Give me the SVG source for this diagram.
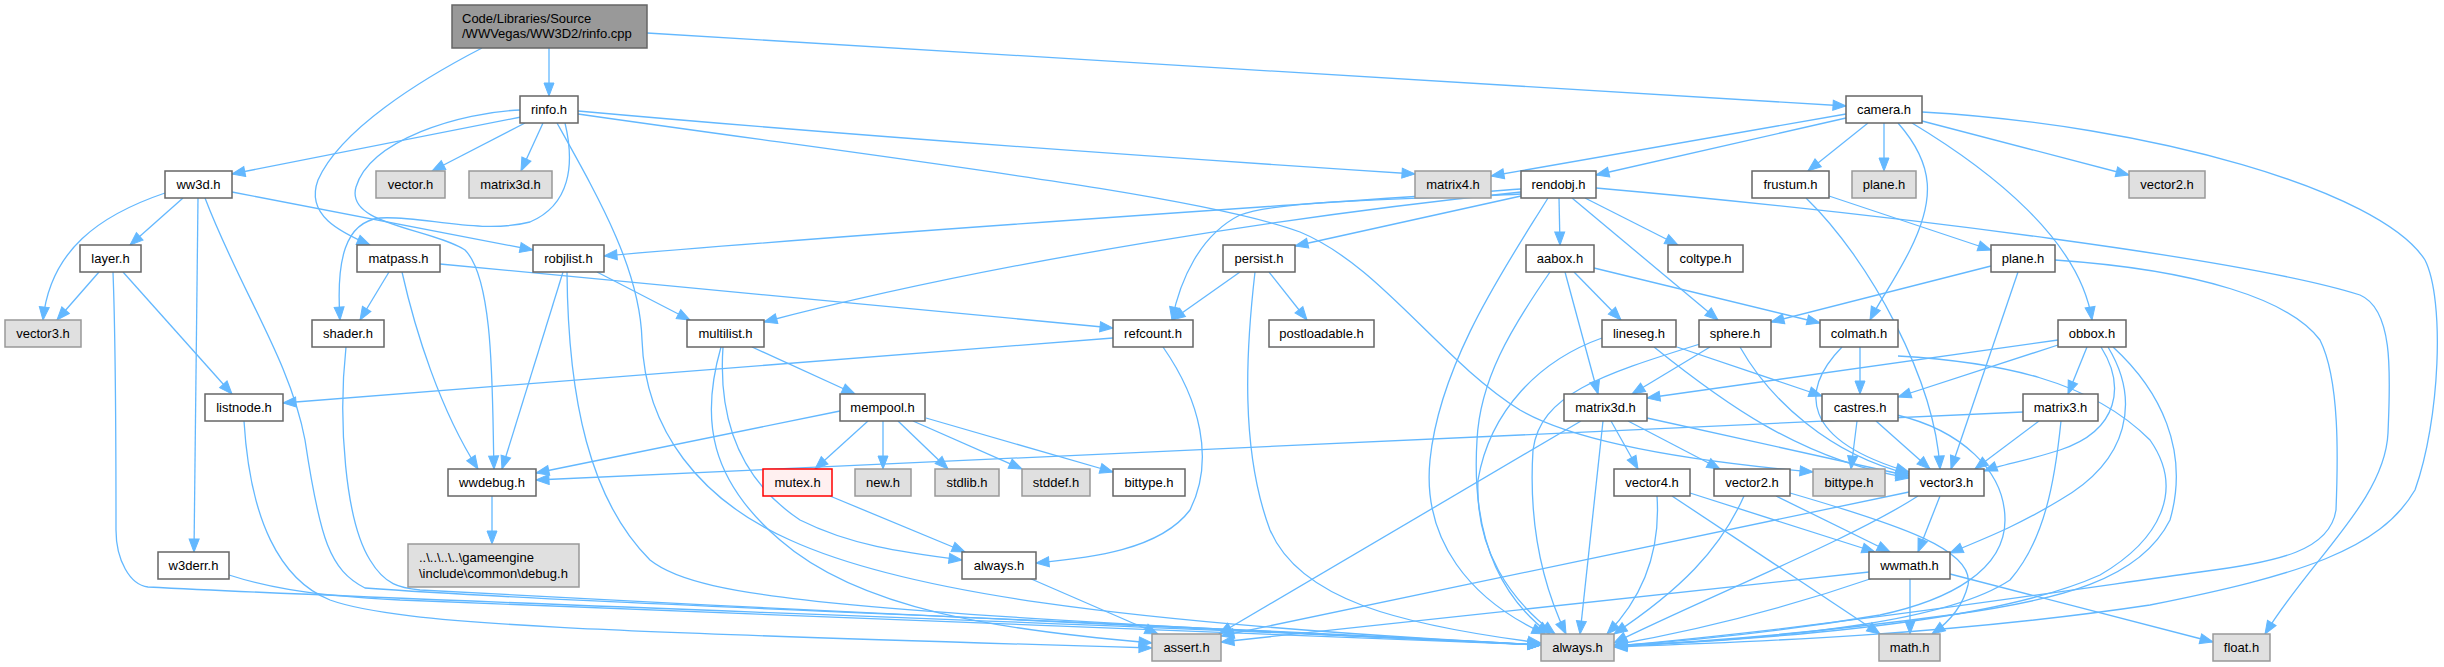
<svg xmlns="http://www.w3.org/2000/svg" width="2444" height="667" viewBox="0 0 2444 667">
<style>
text{font-family:"Liberation Sans",Arial,sans-serif;font-size:13px;fill:#000;text-anchor:middle}
text.l{text-anchor:start}
rect.n{fill:#fff;stroke:#666;stroke-width:1.5}
rect.g{fill:#e0e0e0;stroke:#999;stroke-width:1.5}
rect.r{fill:#999;stroke:#666;stroke-width:1.5}
rect.m{fill:#fff0f0;stroke:#f00;stroke-width:1.5}
#edges path{fill:none;stroke:#63b8ff;stroke-width:1.3;marker-end:url(#a)}
</style>
<defs>
<marker id="a" markerUnits="userSpaceOnUse" markerWidth="14" markerHeight="12" refX="13" refY="6" orient="auto" overflow="visible"><path d="M0,1 L13,6 L0,11 z" fill="#63b8ff" stroke="#63b8ff" stroke-width="1"/></marker>
</defs>
<rect width="2444" height="667" fill="#fff"/>
<g id="edges">
<path d="M549,48 L549,96"/>
<path d="M647,33 L1846,106"/>
<path d="M482,48 C420,80 340,130 318,180 C305,215 340,232 370,245"/>
<path d="M521,117 L232,174"/>
<path d="M525,123 L432,171"/>
<path d="M543,123 L521,171"/>
<path d="M578,111 C900,140 1200,160 1415,174"/>
<path d="M578,114 C900,160 1200,195 1300,232 C1380,265 1440,360 1520,410 C1580,445 1700,462 1813,472"/>
<path d="M557,123 C600,200 640,270 642,340 C645,430 700,500 790,540 C900,590 1100,622 1541,645"/>
<path d="M565,123 C575,165 570,205 530,222 C480,235 420,215 380,218 C345,222 336,260 340,320"/>
<path d="M521,110 C460,112 370,140 356,187 C345,225 430,228 465,250 C495,280 492,400 494,469"/>
<path d="M232,192 L533,250"/>
<path d="M165,193 C100,215 50,250 43,320"/>
<path d="M183,198 L130,245"/>
<path d="M198,198 L194,552"/>
<path d="M205,198 C240,290 290,360 305,440 C320,540 330,570 365,588 C600,605 1100,620 1541,645"/>
<path d="M99,272 L57,320"/>
<path d="M123,272 L232,394"/>
<path d="M113,272 C116,350 116,450 116,530 C116,560 130,585 148,587 C500,605 1100,622 1541,645"/>
<path d="M389,272 L360,320"/>
<path d="M402,272 C415,330 440,410 478,469"/>
<path d="M440,264 L1113,328"/>
<path d="M597,272 L690,320"/>
<path d="M563,272 L502,469"/>
<path d="M567,272 C568,400 590,500 650,560 C700,600 850,612 1541,645"/>
<path d="M346,347 C338,420 345,520 370,560 C385,585 400,588 420,590 C800,610 1200,630 1541,645"/>
<path d="M229,575 C260,585 300,595 400,600 C800,615 1200,630 1541,645"/>
<path d="M244,421 C250,520 280,580 330,600 C400,625 600,632 1152,648"/>
<path d="M492,496 L492,544"/>
<path d="M752,347 L855,394"/>
<path d="M723,347 C718,420 740,480 800,520 C850,545 900,552 962,560"/>
<path d="M721,347 C700,420 710,480 780,540 C860,610 1000,630 1152,643"/>
<path d="M1113,338 L283,403"/>
<path d="M1163,347 C1200,400 1215,460 1190,510 C1160,550 1090,558 1036,563"/>
<path d="M840,411 L536,473"/>
<path d="M868,421 L815,469"/>
<path d="M883,421 L883,469"/>
<path d="M898,421 L948,469"/>
<path d="M913,421 L1022,469"/>
<path d="M926,418 L1113,472"/>
<path d="M830,496 L965,552"/>
<path d="M1029,578 L1158,634"/>
<path d="M1846,114 L1491,176"/>
<path d="M1846,118 L1596,175"/>
<path d="M1868,123 L1808,171"/>
<path d="M1884,123 L1884,171"/>
<path d="M1898,123 C1935,165 1935,200 1910,250 C1895,280 1880,300 1870,320"/>
<path d="M1912,123 C1990,170 2080,240 2092,320"/>
<path d="M1922,121 L2129,175"/>
<path d="M1922,112 C2150,125 2380,190 2425,260 C2445,300 2440,420 2415,490 C2380,550 2300,575 2150,605 C1950,635 1750,642 1614,647"/>
<path d="M1521,189 C1300,205 900,230 604,256"/>
<path d="M1521,192 C1300,215 1000,260 764,322"/>
<path d="M1521,194 C1400,200 1280,200 1240,215 C1200,235 1180,280 1172,320"/>
<path d="M1521,196 L1295,246"/>
<path d="M1548,198 C1510,260 1440,360 1430,460 C1422,540 1470,600 1545,634"/>
<path d="M1559,198 L1560,245"/>
<path d="M1572,198 L1718,320"/>
<path d="M1585,198 L1678,245"/>
<path d="M1596,188 C1900,215 2250,260 2360,295 C2395,310 2390,380 2388,433 C2385,500 2310,560 2265,634"/>
<path d="M1829,196 L1991,250"/>
<path d="M1806,198 C1870,260 1935,380 1940,469"/>
<path d="M1991,266 L1771,322"/>
<path d="M2018,272 L1951,469"/>
<path d="M2055,260 C2200,270 2290,300 2320,340 C2340,380 2338,460 2336,510 C2330,550 2280,562 2200,572 C2000,600 1800,630 1614,646"/>
<path d="M1574,272 L1621,320"/>
<path d="M1565,272 L1598,394"/>
<path d="M1594,268 L1820,323"/>
<path d="M1550,272 C1510,330 1480,380 1477,440 C1472,520 1490,590 1550,634"/>
<path d="M1677,347 L1822,396"/>
<path d="M1654,347 C1720,400 1800,460 1909,478"/>
<path d="M1602,338 C1540,360 1490,410 1478,480 C1475,550 1510,600 1555,634"/>
<path d="M1710,347 L1632,394"/>
<path d="M1740,347 C1770,400 1830,455 1909,474"/>
<path d="M1700,344 C1600,375 1540,395 1533,450 C1528,530 1545,590 1566,634"/>
<path d="M1860,347 L1860,394"/>
<path d="M1842,347 C1800,390 1800,440 1909,472"/>
<path d="M1898,356 C2000,362 2090,380 2150,440 C2185,490 2160,540 2100,575 C2000,620 1800,638 1614,646"/>
<path d="M2058,340 L1647,398"/>
<path d="M2058,345 L1898,397"/>
<path d="M2087,347 L2068,394"/>
<path d="M2101,347 C2125,385 2120,430 2060,450 C2030,460 2000,465 1984,471"/>
<path d="M2108,347 C2140,400 2130,460 2060,500 C2010,530 1980,540 1950,553"/>
<path d="M2113,347 C2160,390 2190,450 2170,520 C2140,580 2060,600 1950,615 C1800,635 1700,642 1614,646"/>
<path d="M1857,421 L1851,469"/>
<path d="M1876,421 L1930,469"/>
<path d="M1897,415 C1960,430 2005,470 2005,520 C2005,570 1950,600 1880,615 C1780,632 1700,640 1614,646"/>
<path d="M2039,421 L1975,469"/>
<path d="M2023,412 L536,480"/>
<path d="M2061,421 C2055,480 2045,540 2010,580 C1950,620 1800,638 1614,646"/>
<path d="M1611,421 L1638,469"/>
<path d="M1628,421 L1720,469"/>
<path d="M1647,418 L1909,476"/>
<path d="M1581,421 L1219,634"/>
<path d="M1603,421 L1580,634"/>
<path d="M1657,496 C1660,540 1650,590 1607,634"/>
<path d="M1690,493 L1875,552"/>
<path d="M1672,496 L1880,634"/>
<path d="M1776,496 L1890,552"/>
<path d="M1790,493 C1900,525 1975,550 1968,585 C1962,610 1945,625 1932,634"/>
<path d="M1744,496 C1720,550 1680,590 1614,634"/>
<path d="M1940,496 L1918,552"/>
<path d="M1909,492 L1221,636"/>
<path d="M1918,496 C1850,540 1700,600 1614,643"/>
<path d="M1910,578 L1910,634"/>
<path d="M1950,574 L2213,642"/>
<path d="M1869,572 L1221,642"/>
<path d="M1873,578 C1780,610 1700,630 1614,645"/>
<path d="M1240,272 L1172,320"/>
<path d="M1269,272 L1307,320"/>
<path d="M1255,272 C1246,350 1240,450 1270,530 C1300,600 1400,625 1541,643"/>
</g>
<g id="node-rinfo_cpp"><rect class="r" x="452" y="5" width="195" height="43"/><text class="l" x="462" y="23">Code/Libraries/Source</text><text class="l" x="462" y="38">/WWVegas/WW3D2/rinfo.cpp</text></g>
<g id="node-rinfo_h"><rect class="n" x="520" y="96" width="58" height="27"/><text x="549" y="114">rinfo.h</text></g>
<g id="node-camera_h"><rect class="n" x="1846" y="96" width="76" height="27"/><text x="1884" y="114">camera.h</text></g>
<g id="node-ww3d_h"><rect class="n" x="165" y="171" width="67" height="27"/><text x="198.5" y="189">ww3d.h</text></g>
<g id="node-vector_h"><rect class="g" x="376" y="171" width="69" height="27"/><text x="410.5" y="189">vector.h</text></g>
<g id="node-matrix3d_g"><rect class="g" x="469" y="171" width="83" height="27"/><text x="510.5" y="189">matrix3d.h</text></g>
<g id="node-matrix4_h"><rect class="g" x="1415" y="171" width="76" height="27"/><text x="1453" y="189">matrix4.h</text></g>
<g id="node-rendobj_h"><rect class="n" x="1521" y="171" width="75" height="27"/><text x="1558.5" y="189">rendobj.h</text></g>
<g id="node-frustum_h"><rect class="n" x="1752" y="171" width="77" height="27"/><text x="1790.5" y="189">frustum.h</text></g>
<g id="node-plane_g"><rect class="g" x="1852" y="171" width="64" height="27"/><text x="1884" y="189">plane.h</text></g>
<g id="node-vector2_g"><rect class="g" x="2129" y="171" width="76" height="27"/><text x="2167" y="189">vector2.h</text></g>
<g id="node-layer_h"><rect class="n" x="80" y="245" width="61" height="27"/><text x="110.5" y="263">layer.h</text></g>
<g id="node-matpass_h"><rect class="n" x="357" y="245" width="83" height="27"/><text x="398.5" y="263">matpass.h</text></g>
<g id="node-robjlist_h"><rect class="n" x="533" y="245" width="71" height="27"/><text x="568.5" y="263">robjlist.h</text></g>
<g id="node-persist_h"><rect class="n" x="1223" y="245" width="72" height="27"/><text x="1259" y="263">persist.h</text></g>
<g id="node-aabox_h"><rect class="n" x="1526" y="245" width="68" height="27"/><text x="1560" y="263">aabox.h</text></g>
<g id="node-coltype_h"><rect class="n" x="1668" y="245" width="75" height="27"/><text x="1705.5" y="263">coltype.h</text></g>
<g id="node-plane_h"><rect class="n" x="1991" y="245" width="64" height="27"/><text x="2023" y="263">plane.h</text></g>
<g id="node-vector3_g"><rect class="g" x="5" y="320" width="76" height="27"/><text x="43" y="338">vector3.h</text></g>
<g id="node-shader_h"><rect class="n" x="312" y="320" width="72" height="27"/><text x="348" y="338">shader.h</text></g>
<g id="node-multilist_h"><rect class="n" x="687" y="320" width="77" height="27"/><text x="725.5" y="338">multilist.h</text></g>
<g id="node-refcount_h"><rect class="n" x="1113" y="320" width="80" height="27"/><text x="1153" y="338">refcount.h</text></g>
<g id="node-postloadable_h"><rect class="n" x="1269" y="320" width="105" height="27"/><text x="1321.5" y="338">postloadable.h</text></g>
<g id="node-lineseg_h"><rect class="n" x="1602" y="320" width="74" height="27"/><text x="1639" y="338">lineseg.h</text></g>
<g id="node-sphere_h"><rect class="n" x="1699" y="320" width="72" height="27"/><text x="1735" y="338">sphere.h</text></g>
<g id="node-colmath_h"><rect class="n" x="1820" y="320" width="78" height="27"/><text x="1859" y="338">colmath.h</text></g>
<g id="node-obbox_h"><rect class="n" x="2058" y="320" width="68" height="27"/><text x="2092" y="338">obbox.h</text></g>
<g id="node-listnode_h"><rect class="n" x="205" y="394" width="78" height="27"/><text x="244" y="412">listnode.h</text></g>
<g id="node-mempool_h"><rect class="n" x="840" y="394" width="85" height="27"/><text x="882.5" y="412">mempool.h</text></g>
<g id="node-matrix3d_h"><rect class="n" x="1564" y="394" width="83" height="27"/><text x="1605.5" y="412">matrix3d.h</text></g>
<g id="node-castres_h"><rect class="n" x="1822" y="394" width="76" height="27"/><text x="1860" y="412">castres.h</text></g>
<g id="node-matrix3_h"><rect class="n" x="2023" y="394" width="75" height="27"/><text x="2060.5" y="412">matrix3.h</text></g>
<g id="node-wwdebug_h"><rect class="n" x="448" y="469" width="88" height="27"/><text x="492" y="487">wwdebug.h</text></g>
<g id="node-mutex_h"><rect class="m" x="763" y="469" width="69" height="27"/><text x="797.5" y="487">mutex.h</text></g>
<g id="node-new_h"><rect class="g" x="855" y="469" width="56" height="27"/><text x="883" y="487">new.h</text></g>
<g id="node-stdlib_h"><rect class="g" x="935" y="469" width="64" height="27"/><text x="967" y="487">stdlib.h</text></g>
<g id="node-stddef_h"><rect class="g" x="1022" y="469" width="68" height="27"/><text x="1056" y="487">stddef.h</text></g>
<g id="node-bittype_w"><rect class="n" x="1113" y="469" width="72" height="27"/><text x="1149" y="487">bittype.h</text></g>
<g id="node-vector4_h"><rect class="n" x="1614" y="469" width="76" height="27"/><text x="1652" y="487">vector4.h</text></g>
<g id="node-vector2_h"><rect class="n" x="1714" y="469" width="76" height="27"/><text x="1752" y="487">vector2.h</text></g>
<g id="node-bittype_g"><rect class="g" x="1813" y="469" width="72" height="27"/><text x="1849" y="487">bittype.h</text></g>
<g id="node-vector3_h"><rect class="n" x="1909" y="469" width="75" height="27"/><text x="1946.5" y="487">vector3.h</text></g>
<g id="node-debug_h"><rect class="g" x="408" y="544" width="171" height="43"/><text class="l" x="419" y="562">..\..\..\..\gameengine</text><text class="l" x="419" y="578">\include\common\debug.h</text></g>
<g id="node-w3derr_h"><rect class="n" x="158" y="552" width="71" height="27"/><text x="193.5" y="570">w3derr.h</text></g>
<g id="node-always_w"><rect class="n" x="962" y="552" width="74" height="27"/><text x="999" y="570">always.h</text></g>
<g id="node-wwmath_h"><rect class="n" x="1869" y="552" width="81" height="27"/><text x="1909.5" y="570">wwmath.h</text></g>
<g id="node-assert_h"><rect class="g" x="1152" y="634" width="69" height="27"/><text x="1186.5" y="652">assert.h</text></g>
<g id="node-always_g"><rect class="g" x="1541" y="634" width="73" height="27"/><text x="1577.5" y="652">always.h</text></g>
<g id="node-math_h"><rect class="g" x="1879" y="634" width="61" height="27"/><text x="1909.5" y="652">math.h</text></g>
<g id="node-float_h"><rect class="g" x="2213" y="634" width="57" height="27"/><text x="2241.5" y="652">float.h</text></g>
</svg>
